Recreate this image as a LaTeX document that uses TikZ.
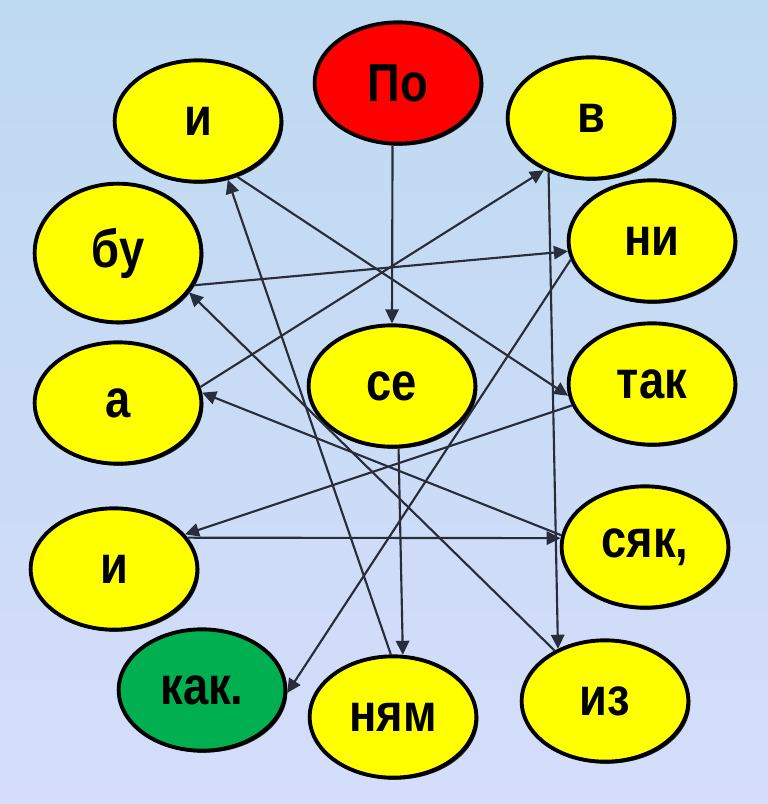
\documentclass[tikz,border=0pt]{standalone}
\usepackage{fontspec}
\setmainfont{Liberation Sans}
\usepackage{graphicx}
\usepackage{xcolor}
\definecolor{bgtop}{RGB}{190,218,240}
\definecolor{bgbottom}{RGB}{213,221,250}
\definecolor{wordyellow}{RGB}{255,255,0}
\definecolor{startred}{RGB}{255,0,0}
\definecolor{endgreen}{RGB}{0,176,80}
\definecolor{linegray}{RGB}{40,45,60}
\usetikzlibrary{arrows.meta, shapes.geometric, shadows}
\newcommand{\wrd}[1]{\scalebox{1}[1.18]{#1}}

\begin{document}
\begin{tikzpicture}[
    x=0.75pt, y=-0.75pt,
    word/.style={
        ellipse, draw, line width=2.9pt, fill=wordyellow,
        minimum width=125pt, minimum height=91pt, inner sep=0pt,
        font=\fontsize{34}{34}\selectfont\bfseries,
        drop shadow={shadow xshift=1.5pt, shadow yshift=-1.5pt, fill=black!85, opacity=1}
    },
    arr/.style={-{Triangle[length=10.5pt, width=10pt]}, line width=1.6pt, draw=linegray, fill=linegray}
]
    % background
    \path[top color=bgtop, bottom color=bgbottom] (0,0) rectangle (768,804);
    \useasboundingbox (0,0) rectangle (768,804);

    \node[word, fill=startred] (po)   at (398,83)  {\wrd{По}};
    \node[word]                (i1)   at (198,121) {\wrd{и}};
    \node[word]                (v)    at (591,118) {\wrd{в}};
    \node[word, minimum height=104pt] (bu) at (118,253) {\wrd{бу}};
    \node[word]                (ni)   at (652,241) {\wrd{ни}};
    \node[word]                (a)    at (118,403) {\wrd{а}};
    \node[word]                (se)   at (392,386) {\wrd{се}};
    \node[word]                (tak)  at (652,384) {\wrd{так}};
    \node[word]                (i2)   at (114,569) {\wrd{и}};
    \node[word]                (syak) at (645,547) {\wrd{сяк,}};
    \node[word, fill=endgreen] (kak)  at (202,690) {\wrd{как.}};
    \node[word]                (nyam) at (393,717) {\wrd{ням}};
    \node[word]                (iz)   at (605,701) {\wrd{из}};

    % sentence order
    \draw[arr] (po.265)   -- (se.north);
    \draw[arr] (se.276)   -- (nyam.81);
    \draw[arr] (nyam.92)  -- (i1.297);
    \draw[arr] (i1.305)   -- (tak.188);
    \draw[arr] (tak.195)  -- (i2.26);
    \draw[arr] (i2.23)    -- (syak.174);
    \draw[arr] (syak.172) -- (a.7);
    \draw[arr] (a.11)     -- (v.228);
    \draw[arr] (v.232)    -- (iz.132);
    \draw[arr] (iz.135)   -- (bu.331);
    \draw[arr] (bu.337)   -- (ni.187);
    \draw[arr] (ni.193)   -- (kak.358);
\end{tikzpicture}
\end{document}
